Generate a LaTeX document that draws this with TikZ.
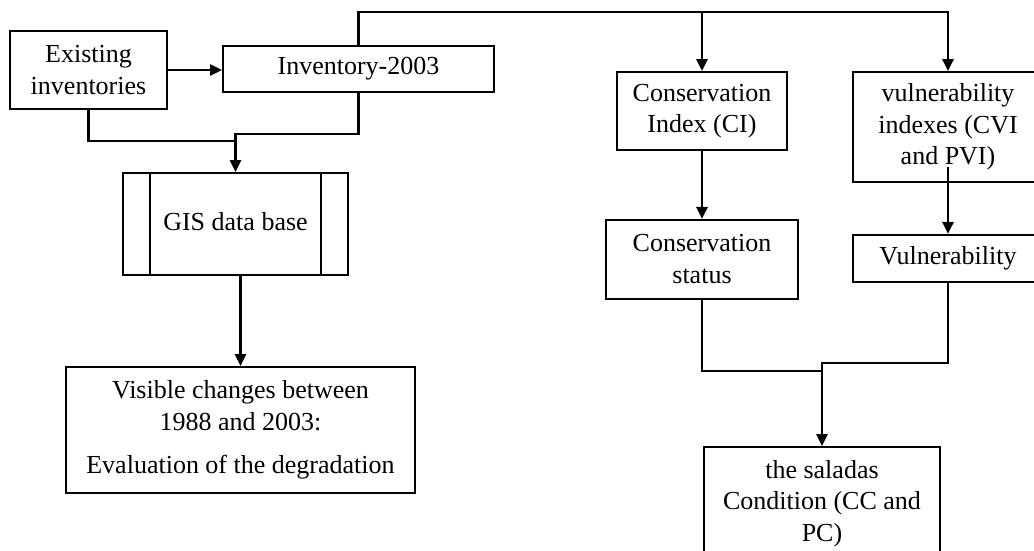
\documentclass[tikz,border=0pt]{standalone}
\usepackage{fontspec}
\setmainfont{Liberation Serif}
\usetikzlibrary{arrows.meta, positioning}
\begin{document}
\begin{tikzpicture}[x=0.5pt, y=-0.5pt,
        box/.style={draw, line width=0.9pt, align=center, inner sep=2pt, font=\fontsize{13}{15.8}\selectfont},
        gisbox/.style={box, path picture={
            \draw[line width=0.9pt] ([xshift=13.5pt]path picture bounding box.north west) -- ([xshift=13.5pt]path picture bounding box.south west);
            \draw[line width=0.9pt] ([xshift=-13.5pt]path picture bounding box.north east) -- ([xshift=-13.5pt]path picture bounding box.south east);}},
        link/.style={line width=1.4pt},
        arr/.style={link, -{Triangle[length=6pt, width=5.5pt]}}]
        \useasboundingbox (0,0) rectangle (1034,551);
        % left branch
        \node[box, minimum width=78.5pt, minimum height=39pt] (ex) at (88.5,70) {Existing\\inventories};
        \node[box, minimum width=135.5pt, minimum height=23pt] (inv) at (358.5,69) {Inventory-2003};
        \node[gisbox, minimum width=112.5pt, minimum height=51pt] (gis) at (235.5,224) {\raisebox{3pt}{GIS data base}};
        \node[box, minimum width=174.5pt, minimum height=63pt] (vis) at (240.5,430) {Visible changes between\\1988 and 2003:\\[6pt]Evaluation of the degradation};
        % right branch
        \node[box, minimum width=85pt, minimum height=39pt] (ci) at (702,111) {Conservation\\Index (CI)};
        \node[box, minimum width=95pt, minimum height=55pt] (vi) at (948,127) {vulnerability\\indexes (CVI\\and PVI)};
        \node[box, minimum width=96pt, minimum height=39.5pt, below=34pt of ci] (cs) {Conservation\\status};
        \node[box, minimum width=95pt, minimum height=23.5pt, below=25.5pt of vi] (vu) {Vulnerability};
        \node[box, minimum width=118pt, minimum height=56.5pt] (sal) at (822,503.5) {the saladas\\Condition (CC and\\PC)};
        % connectors
        \coordinate (top) at (948,12);
        \draw[arr] (inv.north) |- (top) -- (vi.north);
        \draw[arr] (ci.north |- top) -- (ci.north);
        \draw[arr] (ex.east) -- (ex.east -| inv.west);
        \coordinate (jex) at (235.5,141);
        \coordinate (jinv) at (235.5,134);
        \draw[link] (ex.south) |- (jex);
        \draw[arr] (inv.south) |- (jinv) -- (gis.north);
        \draw[arr] (gis.south -| vis.north) -- (vis.north);
        \draw[arr] (ci) -- (cs);
        \coordinate (vstart) at (948,167);
        \draw[arr] (vstart) -- (vu.north);
        \coordinate (jcs) at (822,371);
        \coordinate (jvu) at (822,363);
        \draw[link] (cs.south) |- (jcs);
        \draw[arr] (vu.south) |- (jvu) -- (sal.north);
      \end{tikzpicture}
\end{document}
